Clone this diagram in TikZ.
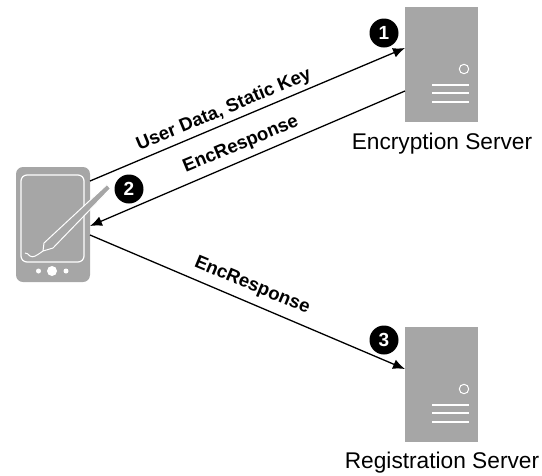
\documentclass[tikz,border=0pt]{standalone}
\usepackage{fontspec}
\setmainfont{Liberation Sans}
\usepackage{xcolor}
\usetikzlibrary{arrows.meta}
\definecolor{devicegray}{HTML}{A6A6A6}
\tikzset{
  server/.style={fill=devicegray,minimum width=73pt,minimum height=115pt,inner sep=0pt,outer sep=0pt},
  phonebody/.style={fill=devicegray,rounded corners=7pt,minimum width=74pt,minimum height=115pt,inner sep=0pt,outer sep=0pt},
  badge/.style={circle,fill=black,text=white,font=\fontsize{19}{19}\selectfont\bfseries,minimum size=29pt,inner sep=0pt},
  caption/.style={font=\fontsize{22.7}{24}\selectfont,inner sep=0pt},
  msg/.style={font=\fontsize{18.6}{20}\selectfont\bfseries,inner sep=0pt},
  link/.style={black,line width=1.3pt},
  linkarrow/.style={link,-{Latex[length=12pt,width=10pt]}},
  detail/.style={white,line width=2pt}
}
\begin{document}
\begin{tikzpicture}[x=1pt,y=1pt]
  \useasboundingbox (0,0) rectangle (542,-475);
  % devices
  \node [phonebody] (phone) at (53,-224.5) {};
  \node [server] (encserver) at (441.5,-64.5) {};
  \node [server] (regserver) at (441.5,-384.5) {};
  % phone details
  \draw [white,line width=1.2pt,rounded corners=6pt] (21,-175) rectangle (84,-262);
  \fill [white] (52,-271) circle (5);
  \fill [white] (38.5,-271) circle (2.5);
  \fill [white] (66,-271) circle (2.5);
  \draw [white,line width=1pt,fill=devicegray,line join=round] (107,-184.5) -- (110.5,-188.5) -- (53,-248) -- (43,-251) -- (44,-243) -- cycle;
  \draw [white,line width=1pt] (43,-251) .. controls (36,-256) and (33,-258) .. (30,-256) .. controls (28,-254) and (27,-253) .. (25,-253);
  % server details
  \foreach \dy in {0,-320} {
    \draw [white,line width=1pt] (464,-69+\dy) circle (4.7);
    \foreach \ly in {-84.5,-93,-102}
      \draw [detail] (432,\ly+\dy) -- (469,\ly+\dy);
  }
  % connectors
  \draw [linkarrow] ([yshift=43.5pt]phone.east) -- ([yshift=16.5pt]encserver.west);
  \draw [linkarrow] ([yshift=-26.5pt]encserver.west) -- ([yshift=-1.5pt]phone.east);
  \draw [linkarrow] ([yshift=-10.5pt]phone.east) -- ([yshift=15.5pt]regserver.west);
  % badges
  \node [badge] (stepone) at (384,-33) {1};
  \node [badge] (steptwo) at (129,-189) {2};
  \node [badge] (stepthree) at (384,-340) {3};
  % labels
  \node [msg,rotate=22.6] (userdata) at (224,-110) {User Data, Static Key};
  \node [msg,rotate=22.6] (encupper) at (241,-145) {EncResponse};
  \node [msg,rotate=-22.6] (enclower) at (252,-286) {EncResponse};
  \node [caption] (enclabel) at (442,-144) {Encryption Server};
  \node [caption] (reglabel) at (442,-463) {Registration Server};
\end{tikzpicture}
\end{document}
